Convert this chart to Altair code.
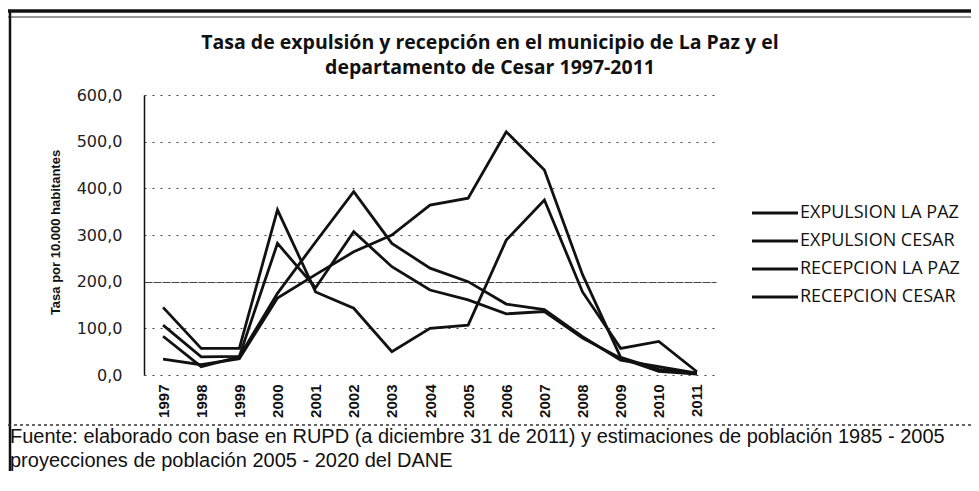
import altair as alt
import pandas as pd

years = [str(y) for y in range(1997, 2012)]
series = ["EXPULSION LA PAZ", "EXPULSION CESAR", "RECEPCION LA PAZ", "RECEPCION CESAR"]

expulsion_la_paz = [34, 22, 35, 165, 215, 264, 300, 364, 379, 521, 439, 215, 38, 12, 3]
expulsion_cesar = [83, 18, 39, 175, 285, 393, 282, 229, 200, 152, 140, 82, 32, 18, 4]
recepcion_la_paz = [145, 57, 57, 354, 178, 143, 50, 100, 107, 289, 375, 178, 57, 72, 7]
recepcion_cesar = [107, 39, 40, 282, 187, 307, 232, 182, 161, 131, 136, 79, 36, 8, 2]

y_ticks = [0, 100, 200, 300, 400, 500, 600]

title_lines = [
    "Tasa de expulsión y recepción en el municipio  de La Paz y el",
    "departamento de Cesar 1997-2011",
]
y_title = "Tasa por 10.000 habitantes"
footer_lines = [
    "Fuente: elaborado con base en RUPD (a diciembre 31 de 2011) y estimaciones de población 1985 - 2005",
    "proyecciones de población 2005 - 2020 del DANE",
]

rows = []
for name, vals in zip(series, [expulsion_la_paz, expulsion_cesar, recepcion_la_paz, recepcion_cesar]):
    for yr, v in zip(years, vals):
        rows.append({"year": yr, "value": v, "series": name})
df = pd.DataFrame(rows)

W, H = 572, 280
INK = "#111111"

lines = alt.Chart(df).mark_line(strokeWidth=2.8, strokeJoin="miter").encode(
    x=alt.X(
        "year:O",
        sort=years,
        title=None,
        axis=alt.Axis(
            labelAngle=270,
            labelFont="Liberation Sans",
            labelFontWeight="bold",
            labelFontSize=15,
            labelColor=INK,
            labelPadding=9,
            ticks=False,
            tickSize=0,
            domain=False,
            grid=False,
        ),
    ),
    y=alt.Y(
        "value:Q",
        scale=alt.Scale(domain=[0, 600], nice=False),
        axis=alt.Axis(
            values=y_ticks,
            format=".1f",
            labelExpr="replace(datum.label, '.', ',')",
            labelFont="DejaVu Sans",
            labelFontSize=16,
            labelColor="#222222",
            labelPadding=22,
            ticks=False,
            tickSize=0,
            domain=True,
            domainColor=INK,
            domainWidth=1.5,
            grid=True,
            gridColor="#444444",
            gridWidth=1,
            gridDash={"condition": {"test": "datum.value === 200", "value": [8, 1]}, "value": [2, 6]},
            title=y_title,
            titleFont="Liberation Sans Narrow, Liberation Sans",
            titleFontWeight="bold",
            titleFontSize=13,
            titleColor=INK,
            titleAngle=270,
            titleX=-89,
            titleY=137,
            titleAlign="center",
            titleBaseline="middle",
        ),
    ),
    color=alt.Color("series:N", scale=alt.Scale(domain=series, range=[INK] * 4), legend=None),
)

leg_df = pd.DataFrame({"series": series})
leg_y = alt.Y(
    "series:N",
    scale=alt.Scale(type="point", domain=series, range=[118, 202], padding=0),
    axis=None,
)
leg_rule = alt.Chart(leg_df).mark_rule(color=INK, strokeWidth=3).encode(
    x=alt.value(608), x2=alt.value(654), y=leg_y
)
leg_text = alt.Chart(leg_df).mark_text(
    align="left", baseline="middle", font="Open Sans", fontSize=18, color=INK
).encode(x=alt.value(656), y=leg_y, text="series:N")


def text_layer(txt, x, y, font, size, weight="normal", align="left"):
    d = pd.DataFrame({"t": [txt]})
    return alt.Chart(d).mark_text(
        align=align, baseline="middle", font=font, fontSize=size, fontWeight=weight, color=INK
    ).encode(x=alt.value(x), y=alt.value(y), text="t:N")


title1 = text_layer(title_lines[0], 346, -52, "Open Sans", 19.5, "bold", "center")
title2 = text_layer(title_lines[1], 346, -27, "Open Sans", 19.5, "bold", "center")
foot1 = text_layer(footer_lines[0], -134, 342, "Liberation Sans", 20)
foot2 = text_layer(footer_lines[1], -134, 366, "Liberation Sans", 20)


def rule_layer(x, x2, y, y2=None, width=1.0, dash=None, color=INK):
    d = pd.DataFrame({"k": [0]})
    kw = dict(color=color, strokeWidth=width)
    if dash:
        kw["strokeDash"] = dash
    enc = dict(x=alt.value(x), y=alt.value(y))
    if x2 is not None:
        enc["x2"] = alt.value(x2)
    if y2 is not None:
        enc["y2"] = alt.value(y2)
    return alt.Chart(d).mark_rule(**kw).encode(**enc)


frame_top = rule_layer(-136, 840, -84, width=3.5)
frame_top2 = rule_layer(-136, 840, -78, width=1.0, color="#333333")
frame_left = rule_layer(-134, None, -84, y2=H + 100, width=2.5)
separator = rule_layer(-136, 840, 330, width=1.5, dash=[3, 3], color="#333333")

chart = (
    alt.layer(
        lines, leg_rule, leg_text, title1, title2, foot1, foot2,
        frame_top, frame_top2, frame_left, separator,
    )
    .resolve_scale(y="independent")
    .properties(
        width=W,
        height=H,
        padding={"left": 136, "top": 87, "right": 255, "bottom": 96},
        autosize=alt.AutoSizeParams(type="none"),
        background="white",
    )
    .configure_view(stroke=None)
)

chart.save("out.html", embed_options={"renderer": "svg", "actions": False})
